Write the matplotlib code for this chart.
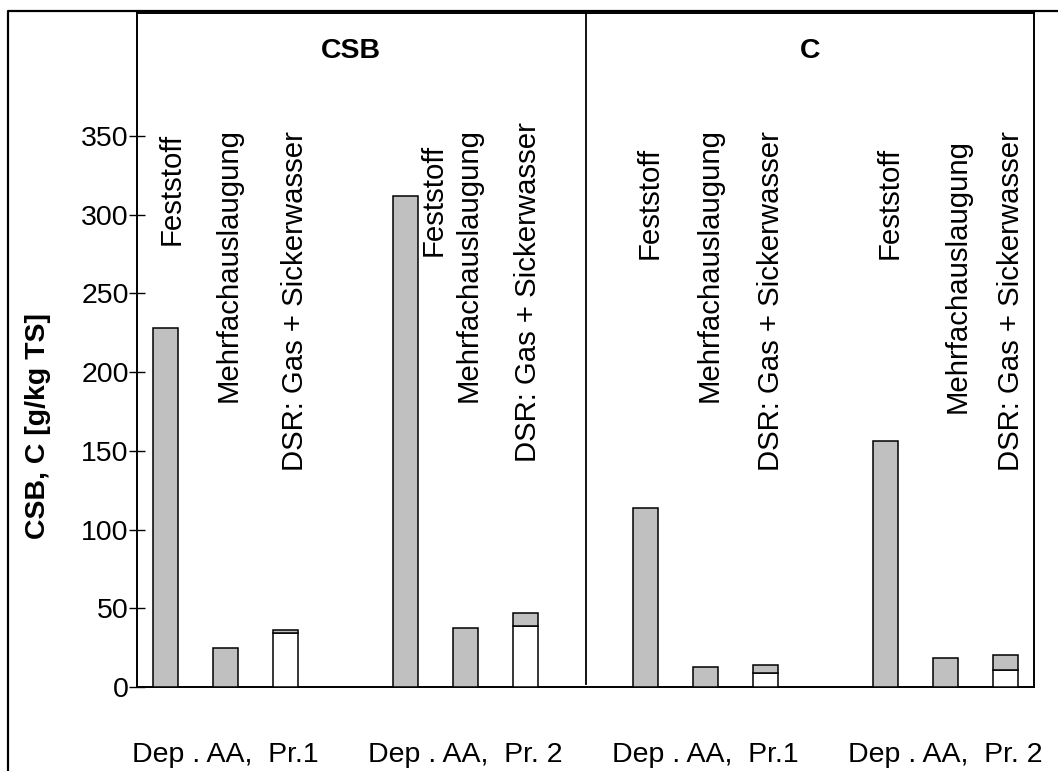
import matplotlib
matplotlib.use("Agg")
import matplotlib.pyplot as plt
from matplotlib.lines import Line2D

plt.rcParams['font.family'] = ['Liberation Sans', 'DejaVu Sans']

# values [g/kg TS]
groups = ['Dep . AA,  Pr.1', 'Dep . AA,  Pr. 2', 'Dep . AA,  Pr.1', 'Dep . AA,  Pr. 2']
feststoff = [228, 312, 113.5, 156]
mehrfach = [25, 37.6, 12.5, 18.6]
dsr_sicker = [34.4, 38.9, 8.7, 10.6]
dsr_gas = [1.6, 8.2, 5.3, 9.7]
bar_labels = ['Feststoff', 'Mehrfachauslaugung', 'DSR: Gas + Sickerwasser']
panels = ['CSB', 'C']

# label placement (x in data units, top of text in y units)
label_pos = [
    [(0.10, 352), (1.05, 355), (2.17, 353)],
    [(4.48, 345), (5.05, 355), (6.05, 359)],
    [(8.07, 343), (9.08, 355), (10.1, 353)],
    [(12.07, 343), (13.2, 348), (14.1, 353)],
]

fs = 20.5
gray = '#c0c0c0'
w = 0.42

fig = plt.figure(figsize=(10.58, 7.71), dpi=100)
ax = fig.add_axes([137 / 1058, 1 - 687 / 771, (1034 - 137) / 1058, (687 - 13) / 771])

starts = [0, 4, 8, 12]
for i, s in enumerate(starts):
    ax.bar(s, feststoff[i], w, color=gray, edgecolor='black', linewidth=1.1, zorder=3)
    ax.bar(s + 1, mehrfach[i], w, color=gray, edgecolor='black', linewidth=1.1, zorder=3)
    ax.bar(s + 2, dsr_sicker[i], w, color='white', edgecolor='black', linewidth=1.1, zorder=3)
    ax.bar(s + 2, dsr_gas[i], w, bottom=dsr_sicker[i], color=gray, edgecolor='black',
           linewidth=1.1, zorder=3)
    for (lx, ly), txt in zip(label_pos[i], bar_labels):
        ax.text(lx, ly, txt, rotation=90, ha='center', va='top', fontsize=21.2)
    ax.text(s + 1, -0.111, groups[i], transform=ax.get_xaxis_transform(),
            ha='center', va='baseline', fontsize=fs, clip_on=False)

ax.text(3.1, 404, panels[0], ha='center', va='center', fontsize=fs, fontweight='bold')
ax.text(10.75, 404, panels[1], ha='center', va='center', fontsize=fs, fontweight='bold')

ax.axvline(7.02, ymin=0.004, ymax=1, color='black', linewidth=1.3)

ax.set_xlim(-0.47, 14.48)
ax.set_ylim(0, 428)
ax.set_yticks(range(0, 351, 50))
ax.set_xticks([])
ax.tick_params(axis='y', direction='inout', length=11, width=1.0, labelsize=fs, pad=0.5)
for sp in ax.spines.values():
    sp.set_linewidth(1.4)

fig.text(38 / 1058, 1 - 426 / 771, 'CSB, C [g/kg TS]', rotation=90, ha='center',
         va='center', fontsize=fs, fontweight='bold')

# outer frame (left and top edges only visible)
fx = 8 / 1058
fy = 1 - 11 / 771
fig.add_artist(Line2D([fx, fx, 1.1], [-0.1, fy, fy], transform=fig.transFigure,
                      color='black', linewidth=1.6, clip_on=False))

fig.savefig('out.png', dpi=100)
